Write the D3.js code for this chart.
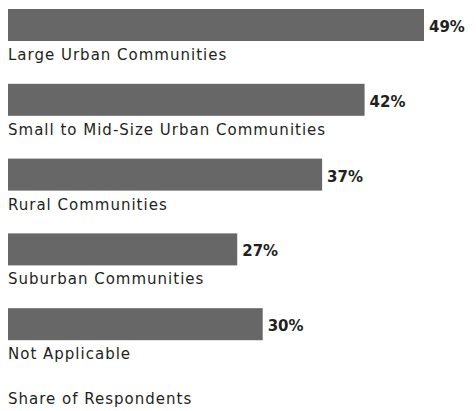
<!DOCTYPE html>
<html>
<head>
<meta charset="utf-8">
<script src="https://cdn.jsdelivr.net/npm/d3@7"></script>
<style>
  body { margin: 0; background: #fff; }
  text { font-family: "DejaVu Sans", sans-serif; }
</style>
</head>
<body>
<div id="graph"></div>
<script>
var categories = ['Large Urban Communities', 'Small to Mid-Size Urban Communities',
  'Rural Communities', 'Suburban Communities', 'Not Applicable']
var values = [49, 42, 37, 27, 30]
var axisTitle = 'Share of Respondents'

var w = 476, h = 411

var svg = d3.select('#graph')
  .html('')
  .append('svg')
  .attr('width', w)
  .attr('height', h)

var x = d3.scaleLinear()
  .domain([0, 49])
  .range([8, 424])

var y = d3.scaleBand()
  .domain(categories)
  .range([9, 340.2])
  .paddingInner(0.572)
  .paddingOuter(0)

var data = categories.map((c, i) => ({cat: c, val: values[i]}))

var rows = svg.selectAll('.row')
  .data(data)
  .enter()
  .append('g')
  .attr('class', 'row')
  .attr('transform', d => 'translate(0,' + y(d.cat) + ')')

rows.append('rect')
  .attr('x', x(0))
  .attr('y', 0)
  .attr('width', d => x(d.val) - x(0))
  .attr('height', y.bandwidth())
  .style('fill', '#666766')

// value labels to the right of the bars
rows.append('text')
  .attr('x', d => x(d.val) + 5)
  .attr('y', y.bandwidth() / 2 + 7)
  .style('font-size', '15px')
  .style('font-weight', 'bold')
  .style('fill', '#231f20')
  .text(d => d.val + '%')

// category names under the bars
rows.append('text')
  .attr('x', 8)
  .attr('y', y.bandwidth() + 19)
  .style('font-size', '15px')
  .style('letter-spacing', '1px')
  .style('fill', '#231f20')
  .text(d => d.cat)

svg.append('text')
  .attr('x', 8)
  .attr('y', 404)
  .style('font-size', '15px')
  .style('letter-spacing', '1px')
  .style('fill', '#231f20')
  .text(axisTitle)
</script>
</body>
</html>
